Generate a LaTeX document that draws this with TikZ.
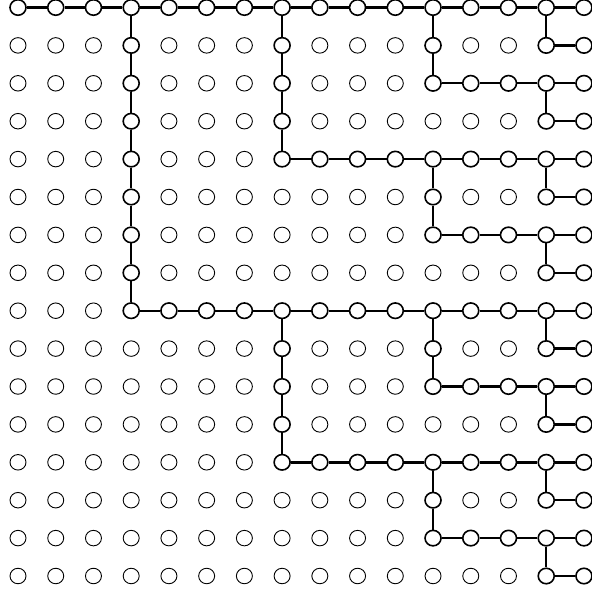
\documentclass[tikz,border=0pt]{standalone}
\usetikzlibrary{shapes.geometric}
\begin{document}
\begin{tikzpicture}[x=1pt,y=-1pt,
  dot/.style={ellipse,draw,inner sep=0pt,minimum width=16pt,minimum height=15.5pt,line width=0.9pt},
  hot/.style={dot,line width=1.6pt},
  cold/.style={dot},
  link/.style={line width=2.4pt}]
\useasboundingbox (0,0) rectangle (592,591);
\def\starts{{0,14,11,14,7,14,11,14,3,14,11,14,7,14,11,14}}
\foreach \r in {0,...,15}{
  \foreach \c in {0,...,15}{
    \pgfmathtruncatemacro\st{\starts[\r]}
    \pgfmathtruncatemacro\on{or(\c>\st-1, or(and(\c==3,\r<9), or(and(\c==7,mod(\r,8)<5), and(\c==11,mod(\r,4)<3))))}
    \ifnum\on>0 \def\sty{hot}\else\def\sty{cold}\fi
    \node[\sty] (n-\r-\c) at ({18+37.73*\c}, {7.5+37.9*\r}) {};
  }
}
% horizontal connectors
\foreach \r in {0,...,15}{
  \pgfmathtruncatemacro\st{\starts[\r]}
  \foreach \c in {\st,...,14}{
    \pgfmathtruncatemacro\d{\c+1}
    \draw[link] (n-\r-\c) -- (n-\r-\d);
  }
}
% vertical connectors
\foreach \c/\a/\b in {3/0/8, 7/0/4, 7/8/12, 11/0/2, 11/4/6, 11/8/10, 11/12/14,
  14/0/1, 14/2/3, 14/4/5, 14/6/7, 14/8/9, 14/10/11, 14/12/13, 14/14/15}{
  \pgfmathtruncatemacro\e{\b-1}
  \foreach \r in {\a,...,\e}{
    \pgfmathtruncatemacro\s{\r+1}
    \draw[link] (n-\r-\c) -- (n-\s-\c);
  }
}
\end{tikzpicture}
\end{document}
